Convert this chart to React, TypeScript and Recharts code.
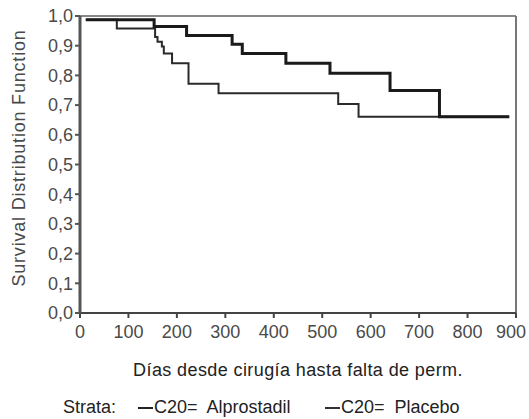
import React from 'react';
import { LineChart, Line, XAxis, YAxis, ReferenceLine } from 'recharts';

// Kaplan-Meier step data (days, survival)
const alprostadilDays = [12, 153, 220, 314, 335, 425, 516, 640, 742, 886];
const alprostadilSurv = [0.987, 0.965, 0.934, 0.905, 0.874, 0.841, 0.807, 0.749, 0.661, 0.661];

const placeboDays = [12, 76, 155, 160, 169, 173, 190, 224, 286, 533, 575, 886];
const placeboSurv = [0.987, 0.958, 0.929, 0.913, 0.897, 0.874, 0.841, 0.772, 0.74, 0.704, 0.661, 0.661];

const xTicks = [0, 100, 200, 300, 400, 500, 600, 700, 800, 900];
const yTicks = [0, 0.1, 0.2, 0.3, 0.4, 0.5, 0.6, 0.7, 0.8, 0.9, 1.0];

const seriesNames = ['C20= Alprostadil', 'C20= Placebo'];
const xTitle = 'Días desde cirugía hasta falta de perm.';
const yTitle = 'Survival Distribution Function';
const legendTitle = 'Strata:';

const alprostadilData = alprostadilDays.map((d, i) => ({ day: d, s: alprostadilSurv[i] }));
const placeboData = placeboDays.map((d, i) => ({ day: d, s: placeboSurv[i] }));

const FONT = '"Liberation Sans", Arial, sans-serif';

const XTick = (props: any) => {
  const { x, y, payload } = props;
  const last = payload.value === xTicks[xTicks.length - 1];
  return (
    <text
      x={x}
      y={y}
      dy="0.71em"
      dx={last ? -5 : 0}
      textAnchor="middle"
      fill="#4a4a4a"
      fontSize={18}
      fontFamily={FONT}
    >
      {payload.value}
    </text>
  );
};

export default function App() {
  return (
    <div style={{ position: 'absolute', left: 0, top: 0, width: 529, height: 419, background: '#fff', fontFamily: FONT }}>
      <LineChart width={529} height={419} margin={{ top: 16, right: 13, bottom: 36, left: 0 }}>
        <XAxis
          type="number"
          dataKey="day"
          domain={[0, 900]}
          ticks={xTicks}
          allowDuplicatedCategory={false}
          height={70}
          tickSize={5}
          tickMargin={7}
          axisLine={{ stroke: '#444', strokeWidth: 2 }}
          tickLine={{ stroke: '#444', strokeWidth: 2 }}
          tick={<XTick />}
          label={{ value: xTitle, position: 'insideBottom', offset: 7, fill: '#222', fontSize: 18, fontFamily: FONT, letterSpacing: 0.4 }}
        />
        <YAxis
          type="number"
          domain={[0, 1]}
          ticks={yTicks}
          width={80}
          tickSize={5}
          tickMargin={2}
          tickFormatter={(v: number) => v.toFixed(1).replace('.', ',')}
          axisLine={{ stroke: '#555', strokeWidth: 3 }}
          tickLine={{ stroke: '#555', strokeWidth: 2 }}
          tick={{ fill: '#4a4a4a', fontSize: 18, fontFamily: FONT }}
          label={{
            content: () => (
              <text
                x={25}
                y={158}
                transform="rotate(-90 25 158)"
                textAnchor="middle"
                fill="#4a4a4a"
                fontSize={18}
                fontFamily={FONT}
                letterSpacing={0.8}
              >
                {yTitle}
              </text>
            ),
          }}
        />
        <ReferenceLine y={1} stroke="#888" strokeWidth={2} ifOverflow="extendDomain" />
        <ReferenceLine x={900} stroke="#777" strokeWidth={2} />
        <Line
          data={placeboData}
          dataKey="s"
          type="stepAfter"
          stroke="#2a2a2a"
          strokeWidth={2}
          dot={false}
          isAnimationActive={false}
          name={seriesNames[1]}
        />
        <Line
          data={alprostadilData}
          dataKey="s"
          type="stepAfter"
          stroke="#1a1a1a"
          strokeWidth={3}
          dot={false}
          isAnimationActive={false}
          name={seriesNames[0]}
        />
      </LineChart>
      <div style={{ position: 'absolute', top: 397, left: 0, width: 529, height: 22, fontSize: 18, color: '#222', lineHeight: '20px', whiteSpace: 'pre' }}>
        <span style={{ position: 'absolute', left: 63 }}>{legendTitle}</span>
        <span style={{ position: 'absolute', left: 138, top: 10, width: 15, height: 0, borderTop: '2px solid #222' }} />
        <span style={{ position: 'absolute', left: 154 }}>{seriesNames[0].replace('= ', '=  ')}</span>
        <span style={{ position: 'absolute', left: 325, top: 10, width: 15, height: 0, borderTop: '2px solid #333' }} />
        <span style={{ position: 'absolute', left: 341 }}>{seriesNames[1].replace('= ', '=  ')}</span>
      </div>
    </div>
  );
}
